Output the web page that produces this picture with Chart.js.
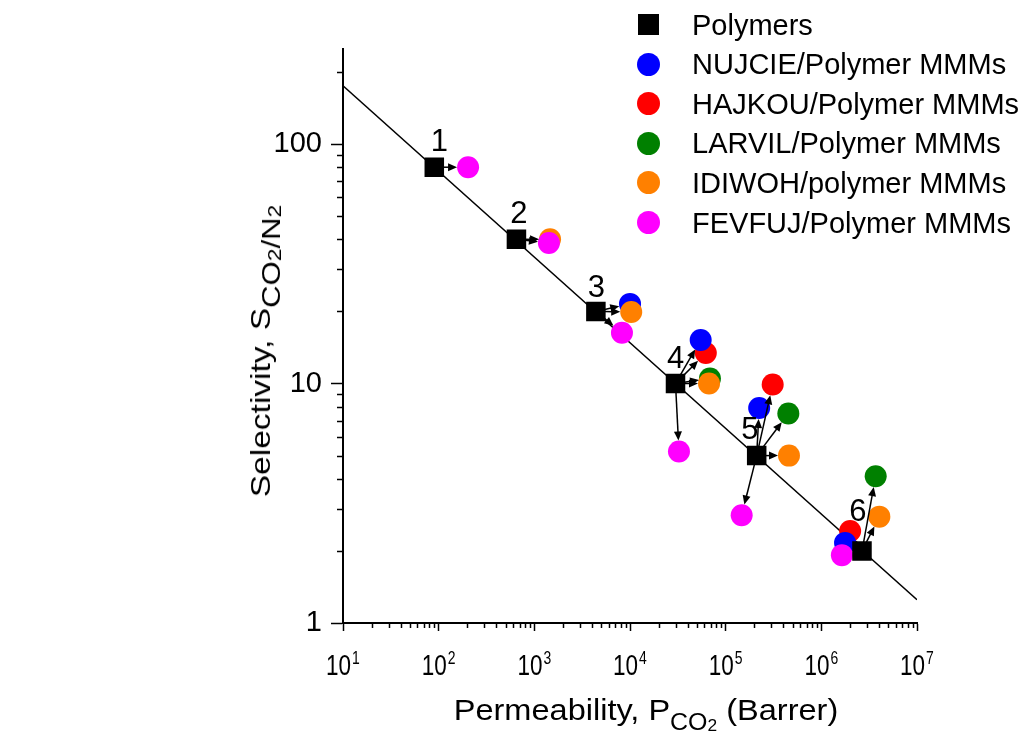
<!DOCTYPE html>
<html>
<head>
<meta charset="utf-8">
<script src="https://cdn.jsdelivr.net/npm/chart.js@4.4.0/dist/chart.umd.min.js"></script>
<style>
  body { margin: 0; background: #fff; }
  #wrap { position: relative; width: 1025px; height: 731px; overflow: hidden;
          font-family: "Liberation Sans", Arial, sans-serif; color: #000; }
  #chart { position: absolute; left: 0; top: 0; }
  .title { position: absolute; line-height: 28px; white-space: nowrap; }
  .sub { position: relative; line-height: 0; }
  .sub2 { position: relative; top: 1px; line-height: 0; }
  #xtitle { left: 645.5px; top: 696px; font-size: 30px; }
  #xtitle .sub { top: 10px; font-size: 23px; }
  #xtitle .sub2 { font-size: 16px; }
  #ytitle { left: 261px; top: 351px; font-size: 28px; }
  #ytitle .sub { top: 10px; font-size: 26px; }
  #ytitle .sub2 { font-size: 19px; }
  .leg-row { position: absolute; height: 40px; }
  .leg-mark { position: absolute; }
  .leg-text { position: absolute; left: 56px; top: 6px; font-size: 29px; line-height: 28px; white-space: nowrap; }
</style>
</head>
<body>
<div id="wrap">
  <canvas id="chart"></canvas>
  <div class="title" id="xtitle">Permeability, P<span class="sub">CO<span class="sub2">2</span></span> (Barrer)</div>
  <div class="title" id="ytitle">Selectivity, S<span class="sub">CO<span class="sub2">2</span>/N<span class="sub2">2</span></span></div>
  <div id="legend"></div>
</div>
<script>
// polymer reference points (squares) and their labels
const polymerLabels = ["1", "2", "3", "4", "5", "6"];
const polymerP = [90, 650, 4400, 29900, 211000, 2660000];
const polymerS = [80, 40, 20, 10, 5, 2];

// MMM points for each filler, same order as the polymers (null = no point)
const nujcieP = [null, null, 10000, 54800, 224000, 1770000];
const nujcieS = [null, null, 21.5, 15.2, 7.9, 2.16];
const hajkouP = [null, null, null, 62000, 310000, 2000000];
const hajkouS = [null, null, null, 13.4, 9.9, 2.42];
const larvilP = [null, null, null, 68500, 452000, 3700000];
const larvilS = [null, null, null, 10.5, 7.5, 4.1];
const idiwohP = [null, 1460, 10300, 67000, 459000, 4040000];
const idiwohS = [null, 40, 19.9, 10, 5.0, 2.78];
const fevfujP = [203, 1420, 8240, 32500, 147000, 1640000];
const fevfujS = [80, 38.6, 16.3, 5.2, 2.82, 1.92];

// upper bound line
const boundP = [10, 10000000];
const boundS = [175, 1.25];

// axis ticks
const xTickExps = [1, 2, 3, 4, 5, 6, 7];
const yTicks = [1, 10, 100];

// function to zip x and y arrays into point objects, skipping empty ones
function toPoints(xs, ys) {
  const pts = [];
  xs.forEach((x, i) => {
    if (x !== null && ys[i] !== null) pts.push({ x: x, y: ys[i] });
  });
  return pts;
}

const FONT = '"Liberation Sans", Arial, sans-serif';
const NARROW = '"Liberation Sans Narrow", "Arial Narrow", "Liberation Sans", Arial, sans-serif';
const CIRCLE_R = 11;

// legend order; draw order is handled by "order" (lower = on top)
const mmmSeries = [
  { label: "NUJCIE/Polymer MMMs", color: "#0000ff", xs: nujcieP, ys: nujcieS, order: 3 },
  { label: "HAJKOU/Polymer MMMs", color: "#ff0000", xs: hajkouP, ys: hajkouS, order: 4 },
  { label: "LARVIL/Polymer MMMs", color: "#008000", xs: larvilP, ys: larvilS, order: 2 },
  { label: "IDIWOH/polymer MMMs", color: "#ff8000", xs: idiwohP, ys: idiwohS, order: 1 },
  { label: "FEVFUJ/Polymer MMMs", color: "#ff00ff", xs: fevfujP, ys: fevfujS, order: 0 },
];

const datasets = [
  {
    label: "Upper bound",
    data: toPoints(boundP, boundS),
    showLine: true,
    borderColor: "#000",
    borderWidth: 1.5,
    pointRadius: 0,
    order: 10,
  },
  {
    label: "Polymers",
    data: toPoints(polymerP, polymerS),
    pointStyle: "rect",
    pointRadius: 13.8,
    backgroundColor: "#000",
    borderWidth: 0,
    order: -1,
  },
];
mmmSeries.forEach((s) => {
  datasets.push({
    label: s.label,
    data: toPoints(s.xs, s.ys),
    pointStyle: "circle",
    pointRadius: CIRCLE_R,
    backgroundColor: s.color,
    borderWidth: 0,
    order: s.order,
  });
});

// offsets of the number labels from their square (pixels)
const labelOffsets = [[5, -27], [2.5, -27.5], [0.5, -25], [0, -26.5], [-6.7, -27.7], [-4, -41]];

// plugin for arrows, minor ticks, x tick labels and the polymer numbers
const extrasPlugin = {
  id: "extras",
  afterDatasetsDraw(chart) {
    const ctx = chart.ctx;
    const xs = chart.scales.x;
    const ys = chart.scales.y;
    ctx.save();
    ctx.strokeStyle = "#000";
    ctx.fillStyle = "#000";
    ctx.lineWidth = 1.5;
    mmmSeries.forEach((s) => {
      s.xs.forEach((p, i) => {
        if (p === null) return;
        const x0 = xs.getPixelForValue(polymerP[i]);
        const y0 = ys.getPixelForValue(polymerS[i]);
        const x1 = xs.getPixelForValue(p);
        const y1 = ys.getPixelForValue(s.ys[i]);
        const dx = x1 - x0;
        const dy = y1 - y0;
        const len = Math.sqrt(dx * dx + dy * dy);
        const ux = dx / len;
        const uy = dy / len;
        const tx = x1 - ux * CIRCLE_R;
        const ty = y1 - uy * CIRCLE_R;
        const sx = x0 + ux * 9;
        const sy = y0 + uy * 9;
        const head = 9;
        const half = 4;
        ctx.beginPath();
        ctx.moveTo(sx, sy);
        ctx.lineTo(tx - ux * head * 0.8, ty - uy * head * 0.8);
        ctx.stroke();
        ctx.beginPath();
        ctx.moveTo(tx, ty);
        ctx.lineTo(tx - ux * head - uy * half, ty - uy * head + ux * half);
        ctx.lineTo(tx - ux * head + uy * half, ty - uy * head - ux * half);
        ctx.closePath();
        ctx.fill();
      });
    });
    ctx.restore();
  },
  afterDraw(chart) {
    const ctx = chart.ctx;
    const xs = chart.scales.x;
    const ys = chart.scales.y;
    const area = chart.chartArea;
    ctx.save();
    ctx.strokeStyle = "#000";
    ctx.lineWidth = 1.5;

    // minor ticks on the x axis
    ctx.beginPath();
    for (let e = 1; e < 7; e++) {
      for (let m = 2; m <= 9; m++) {
        const px = Math.round(xs.getPixelForValue(m * Math.pow(10, e))) + 0.5;
        ctx.moveTo(px, area.bottom);
        ctx.lineTo(px, area.bottom + 5);
      }
    }
    // minor ticks on the y axis
    for (let e = 0; e < 3; e++) {
      for (let m = 2; m <= 9; m++) {
        const v = m * Math.pow(10, e);
        if (v > ys.max) continue;
        const py = Math.round(ys.getPixelForValue(v)) + 0.5;
        ctx.moveTo(area.left, py);
        ctx.lineTo(area.left - 6, py);
      }
    }
    ctx.stroke();

    // x tick labels as 10^n, squeezed like the original narrow font
    ctx.fillStyle = "#000";
    ctx.textBaseline = "alphabetic";
    ctx.textAlign = "left";
    xTickExps.forEach((n) => {
      const px = xs.getPixelForValue(Math.pow(10, n));
      ctx.font = "29px " + NARROW;
      const raw = ctx.measureText("10").width;
      const sq = Math.min(1, 25 / raw);
      const w1 = raw * sq;
      ctx.font = "18px " + NARROW;
      const w2 = ctx.measureText(String(n)).width * sq;
      const start = px - (w1 + w2 + 1) / 2;
      ctx.save();
      ctx.translate(start, 675);
      ctx.scale(sq, 1);
      ctx.font = "29px " + NARROW;
      ctx.fillText("10", 0, 0);
      ctx.restore();
      ctx.save();
      ctx.translate(start + w1 + 1, 664);
      ctx.scale(sq, 1);
      ctx.font = "18px " + NARROW;
      ctx.fillText(String(n), 0, 0);
      ctx.restore();
    });

    // polymer numbers
    ctx.font = "31px " + FONT;
    ctx.textAlign = "center";
    polymerLabels.forEach((lab, i) => {
      const px = xs.getPixelForValue(polymerP[i]) + labelOffsets[i][0];
      const py = ys.getPixelForValue(polymerS[i]) + labelOffsets[i][1];
      ctx.fillText(lab, px, py + 11);
    });
    ctx.restore();
  },
};

// build the html legend
function buildLegend() {
  const legend = document.getElementById("legend");
  const items = [{ label: "Polymers", color: "#000", square: true }].concat(
    mmmSeries.map((s) => ({ label: s.label, color: s.color, square: false }))
  );
  items.forEach((item, i) => {
    const row = document.createElement("div");
    row.className = "leg-row";
    row.style.left = "636px";
    row.style.top = 24.5 + 39.6 * i - 20 + "px";
    const mark = document.createElement("div");
    mark.className = "leg-mark";
    const size = item.square ? 21 : 23;
    mark.style.width = size + "px";
    mark.style.height = size + "px";
    mark.style.left = 12 - size / 2 + "px";
    mark.style.top = 20 - size / 2 + "px";
    mark.style.background = item.color;
    if (!item.square) mark.style.borderRadius = "50%";
    const text = document.createElement("div");
    text.className = "leg-text";
    text.textContent = item.label;
    row.appendChild(mark);
    row.appendChild(text);
    legend.appendChild(row);
  });
}

// stretch the axis titles to the length they have in the original
function fitTitles() {
  const xt = document.getElementById("xtitle");
  const yt = document.getElementById("ytitle");
  const kx = 385 / xt.offsetWidth;
  const ky = 292 / yt.offsetWidth;
  xt.style.transform = "translateX(-50%) scaleX(" + kx + ")";
  yt.style.transform = "translate(-50%, -50%) rotate(-90deg) scaleX(" + ky + ")";
}

document.addEventListener("DOMContentLoaded", () => {
  buildLegend();
  fitTitles();
  const canvas = document.getElementById("chart");
  canvas.width = 1025;
  canvas.height = 731;
  new Chart(canvas.getContext("2d"), {
    type: "scatter",
    data: { datasets: datasets },
    options: {
      responsive: false,
      animation: false,
      events: [],
      layout: { padding: { top: 48.7, right: 108, left: 0, bottom: 0 } },
      plugins: { legend: { display: false }, tooltip: { enabled: false } },
      scales: {
        x: {
          type: "logarithmic",
          min: 10,
          max: 10000000,
          afterBuildTicks: (scale) => {
            scale.ticks = xTickExps.map((n) => ({ value: Math.pow(10, n) }));
          },
          afterFit: (scale) => {
            scale.height = 108;
          },
          ticks: { callback: () => "" },
          grid: { drawOnChartArea: false, color: "#000", tickLength: 8, tickWidth: 1.5 },
          border: { color: "#000", width: 2 },
        },
        y: {
          type: "logarithmic",
          min: 1,
          max: 250,
          afterBuildTicks: (scale) => {
            scale.ticks = yTicks.map((v) => ({ value: v }));
          },
          afterFit: (scale) => {
            scale.width = 343;
          },
          ticks: {
            callback: (v) => String(v),
            color: "#000",
            padding: 9,
            font: { family: FONT, size: 29 },
          },
          grid: { drawOnChartArea: false, color: "#000", tickLength: 12, tickWidth: 1.5 },
          border: { color: "#000", width: 2 },
        },
      },
    },
    plugins: [extrasPlugin],
  });
});
</script>
</body>
</html>
